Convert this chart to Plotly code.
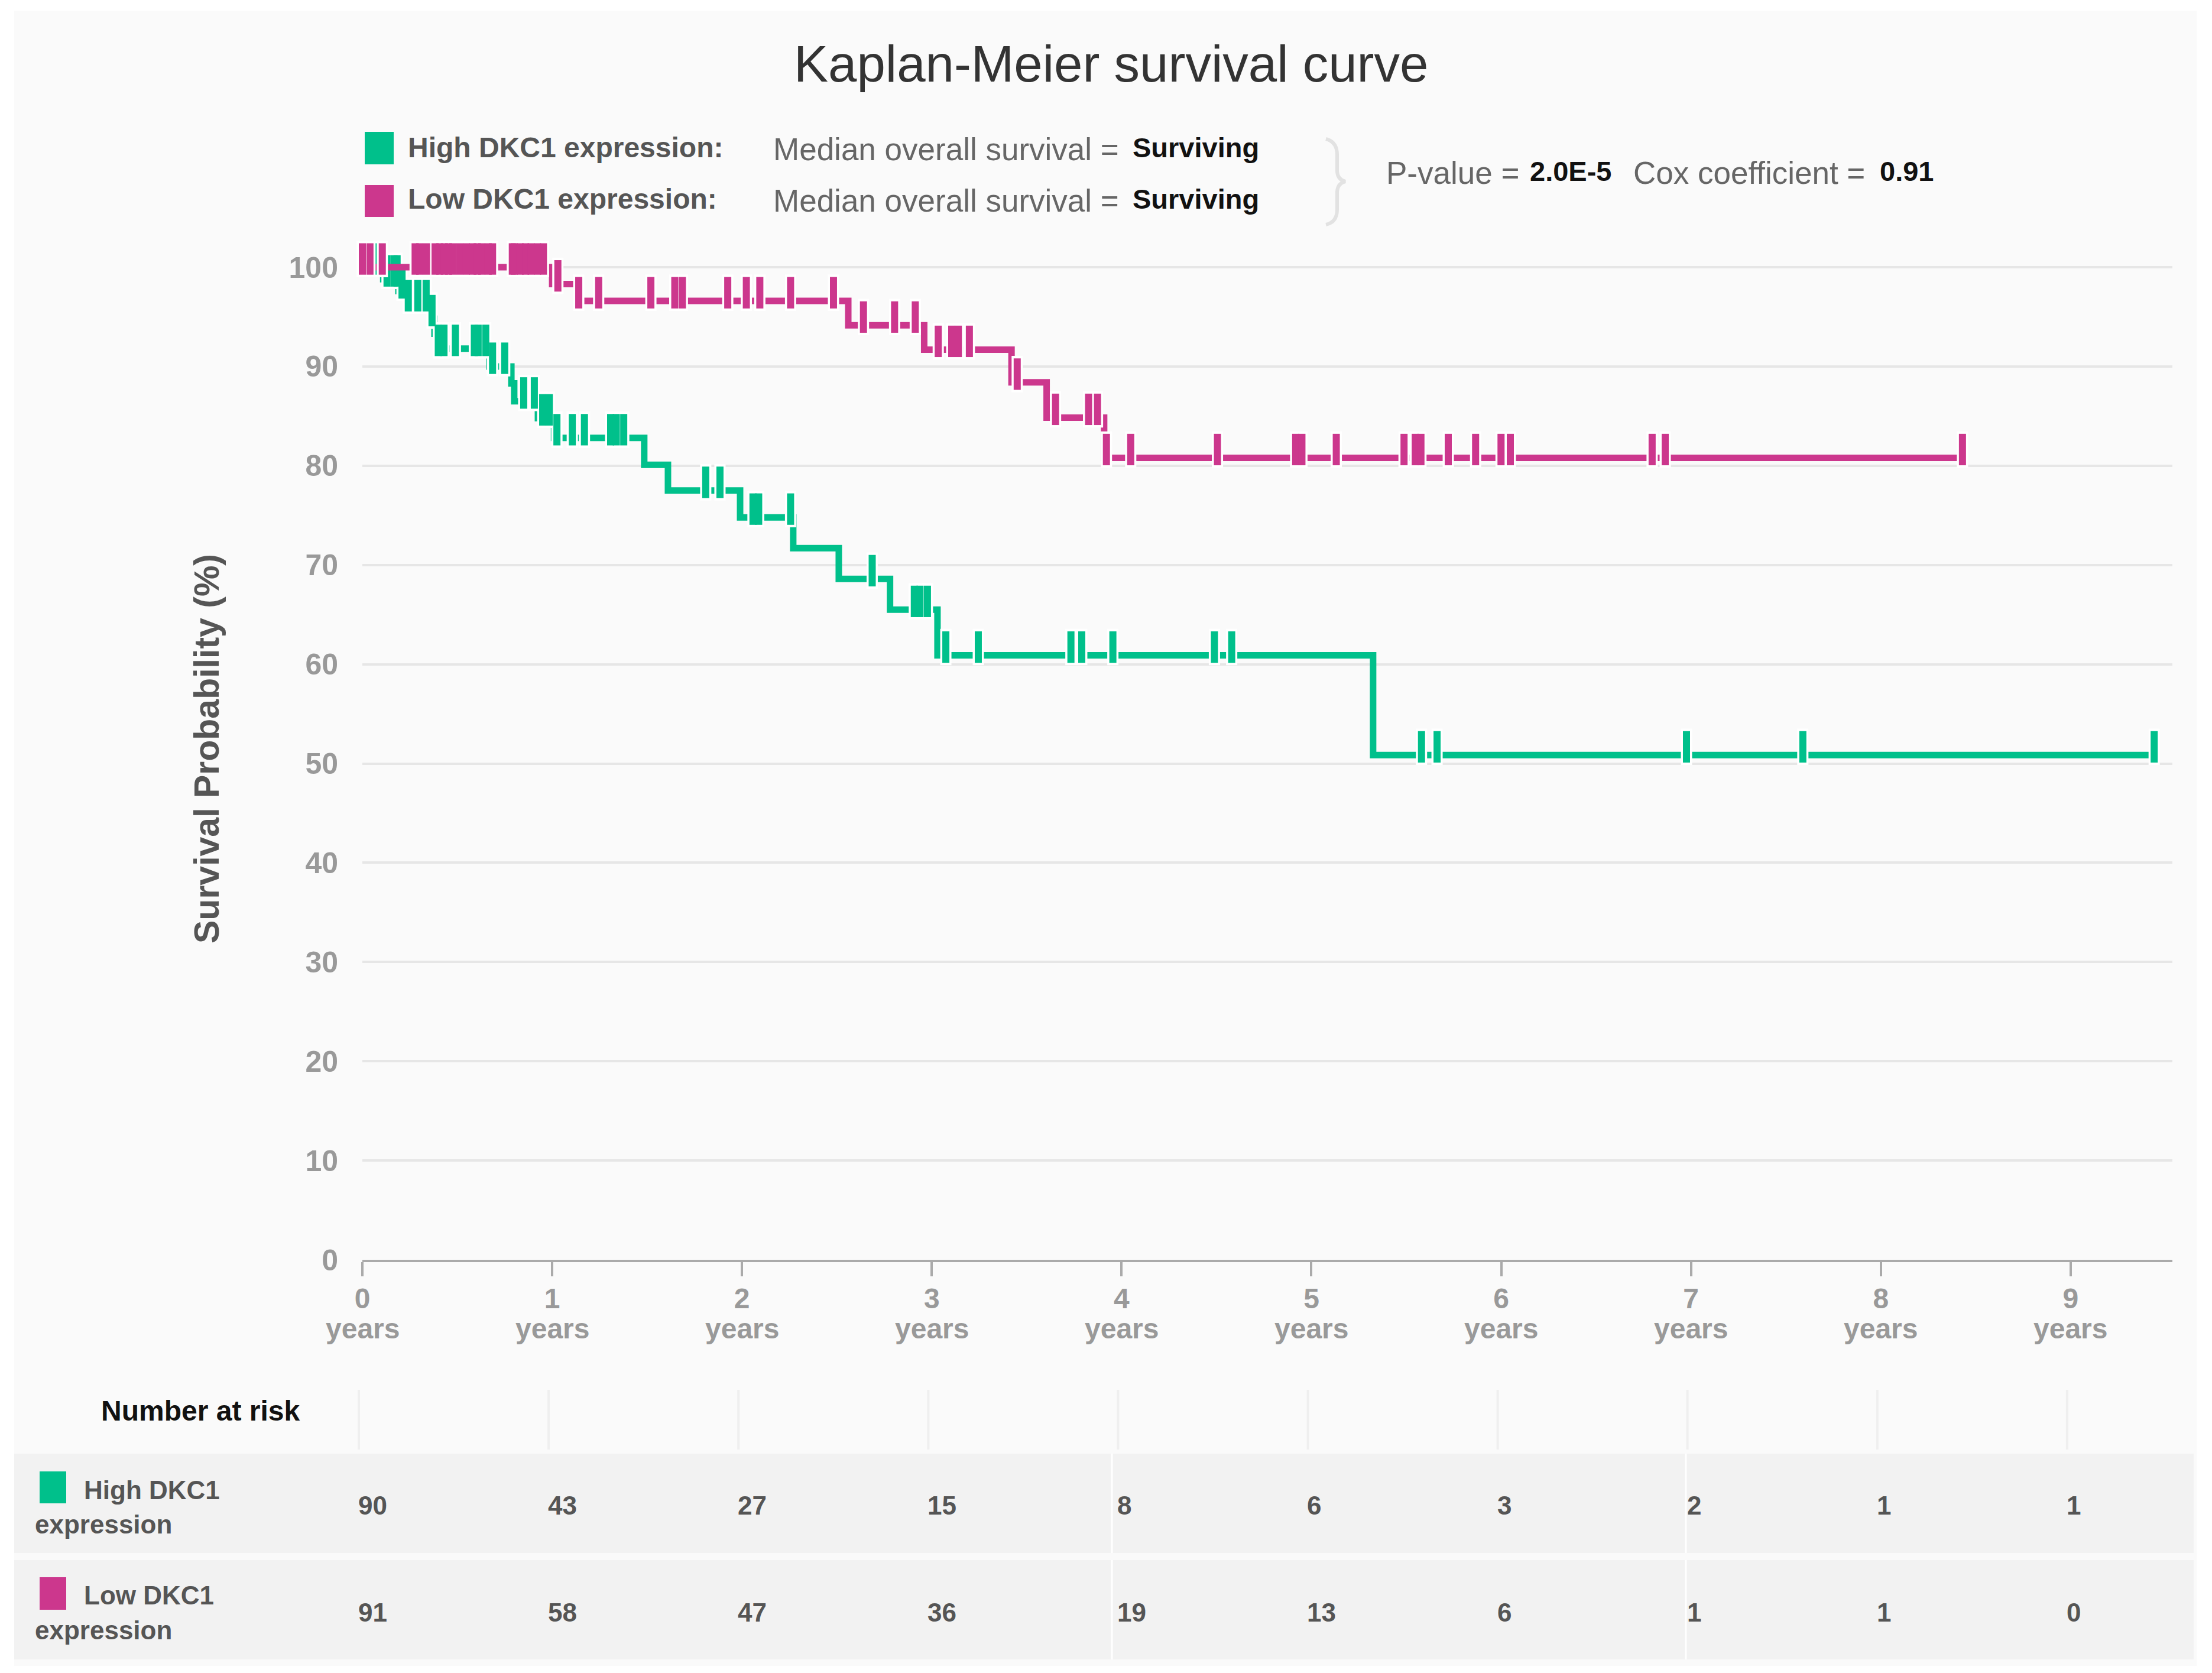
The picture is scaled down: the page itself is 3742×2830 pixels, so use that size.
import numpy as np
import plotly.graph_objects as go

# ---------------- data ----------------
green_times = [0, 0.11, 0.19, 0.235, 0.36, 0.38, 0.40, 0.67, 0.785, 0.80, 0.925, 1.01,
               1.485, 1.61, 1.99, 2.27, 2.51, 2.78, 3.03, 5.325, 9.44]
green_surv = [100, 98.8, 97.6, 96.3, 94.8, 93.3, 91.8, 90.0, 88.3, 86.5, 84.8, 82.8,
              80.1, 77.5, 74.8, 71.7, 68.6, 65.5, 60.9, 50.85, 50.85]
green_censor = [0.08, 0.13, 0.167, 0.183, 0.209, 0.242, 0.292, 0.336, 0.367, 0.40, 0.43,
                0.49, 0.59, 0.61, 0.65, 0.686, 0.75, 0.85, 0.906, 0.95, 0.985, 1.025,
                1.106, 1.17, 1.308, 1.338, 1.377, 1.809, 1.884, 2.058, 2.088, 2.256,
                2.686, 2.908, 2.938, 2.977, 3.074, 3.245, 3.733, 3.79, 3.954, 4.489,
                4.58, 5.58, 5.662, 6.976, 7.589, 9.44]

magenta_times = [0, 1.00, 1.13, 2.56, 2.96, 3.42, 3.605, 3.908, 8.44]
magenta_surv = [100, 98.3, 96.6, 94.15, 91.7, 88.4, 84.85, 80.8, 80.8]
magenta_censor = [0.0, 0.04, 0.105, 0.278, 0.302, 0.338, 0.383, 0.408, 0.432, 0.454,
                  0.476, 0.512, 0.548, 0.582, 0.605, 0.629, 0.663, 0.686, 0.79, 0.80,
                  0.831, 0.860, 0.889, 0.923, 0.954, 1.03, 1.14, 1.245, 1.52, 1.646,
                  1.686, 1.925, 2.023, 2.094, 2.256, 2.482, 2.64, 2.804, 2.913, 3.034,
                  3.105, 3.14, 3.198, 3.45, 3.652, 3.826, 3.873, 3.92, 4.048, 4.505,
                  4.917, 4.950, 5.131, 5.488, 5.547, 5.577, 5.721, 5.865, 5.999, 6.048,
                  6.795, 6.864, 8.43]

year_ticks = [0, 1, 2, 3, 4, 5, 6, 7, 8, 9]
y_ticks = [0, 10, 20, 30, 40, 50, 60, 70, 80, 90, 100]
risk_high = [90, 43, 27, 15, 8, 6, 3, 2, 1, 1]
risk_low = [91, 58, 47, 36, 19, 13, 6, 1, 1, 0]

GREEN = "#00C08B"
MAGENTA = "#CC378D"
FONT = "Liberation Sans, Arial, sans-serif"

# ---------------- geometry (pixels) ----------------
W, H = 3742, 2830
L, R, T, B = 613, 3675, 426, 2131
X_MAX = 9.536
Y_MAX = 101.55


def px_x(px):
    return (px - L) / (R - L)


def px_y(py):
    return (B - py) / (B - T)


def year_px(k):
    return L + k * (R - L) / X_MAX


def surv_at(times, surv, t):
    idx = np.searchsorted(np.array(times), np.array(t), side="right") - 1
    return np.array(surv)[idx]


fig = go.Figure()

TICK_OFF = 0.83  # censor tick sits on top of the line


def add_series(times, surv, censor, color, name):
    fig.add_trace(go.Scatter(x=times, y=surv, mode="lines", line_shape="hv",
                             line=dict(color=color, width=11), name=name,
                             showlegend=False, cliponaxis=False, hoverinfo="skip"))
    cy = surv_at(times, surv, censor) + TICK_OFF
    fig.add_trace(go.Scatter(x=censor, y=cy, mode="markers", showlegend=False,
                             cliponaxis=False, hoverinfo="skip",
                             marker=dict(symbol="line-ns", size=44,
                                         line=dict(color="white", width=19))))
    fig.add_trace(go.Scatter(x=censor, y=cy, mode="markers", showlegend=False,
                             cliponaxis=False, hoverinfo="skip",
                             marker=dict(symbol="line-ns", size=38,
                                         line=dict(color=color, width=12))))


add_series(green_times, green_surv, green_censor, GREEN, "High DKC1 expression")
add_series(magenta_times, magenta_surv, magenta_censor, MAGENTA, "Low DKC1 expression")

shapes = []
annotations = []


def ann(text, px, py, size, color, xanchor="left", angle=0):
    annotations.append(dict(
        text=text, x=px_x(px), y=px_y(py),
        xref="paper", yref="paper", xanchor=xanchor, yanchor="middle",
        showarrow=False, textangle=angle,
        font=dict(family=FONT, size=size, color=color)))


def rect(x0, y0, x1, y1, color, layer="below"):
    shapes.append(dict(type="rect", xref="paper", yref="paper",
                       x0=px_x(x0), x1=px_x(x1), y0=px_y(y1), y1=px_y(y0),
                       fillcolor=color, line=dict(width=0), layer=layer))


def vline(px, y0, y1, color, width):
    shapes.append(dict(type="line", xref="paper", yref="paper",
                       x0=px_x(px), x1=px_x(px), y0=px_y(y1), y1=px_y(y0),
                       line=dict(color=color, width=width), layer="below"))


# background panel
rect(24, 18, 3716, 2818, "#fafafa")

# title
ann("Kaplan-Meier survival curve", 1879, 107, 87, "#333333", xanchor="center")

# legend block
rect(617, 223, 666, 278, GREEN, layer="above")
rect(617, 313, 666, 367, MAGENTA, layer="above")
ann("<b>High DKC1 expression:</b>", 688, 250, 48, "#555555")
ann("<b>Low DKC1 expression:</b>", 688, 337, 48, "#555555")
ann("Median overall survival =", 1306, 252, 53, "#666666")
ann("Median overall survival =", 1306, 340, 53, "#666666")
ann("<b>Surviving</b>", 1914, 250, 47, "#111111")
ann("<b>Surviving</b>", 1914, 337, 47, "#111111")

# brace
pts = [(2243, 235), (2262, 240), (2262, 262), (2262, 290), (2263, 304), (2276, 307),
       (2263, 310), (2262, 324), (2262, 354), (2262, 376), (2243, 380)]
p = [(px_x(a), px_y(b)) for a, b in pts]
path = ("M {0[0]},{0[1]} Q {1[0]},{1[1]} {2[0]},{2[1]} L {3[0]},{3[1]} "
        "Q {4[0]},{4[1]} {5[0]},{5[1]} Q {6[0]},{6[1]} {7[0]},{7[1]} "
        "L {8[0]},{8[1]} Q {9[0]},{9[1]} {10[0]},{10[1]}").format(*p)
shapes.append(dict(type="path", xref="paper", yref="paper", path=path,
                   line=dict(color="#e2e2e2", width=6), layer="above"))

ann("P-value =", 2343, 292, 53, "#666666")
ann("<b>2.0E-5</b>", 2586, 290, 47, "#111111")
ann("Cox coefficient =", 2761, 292, 53, "#666666")
ann("<b>0.91</b>", 3178, 290, 47, "#111111")

# y-axis title
ann("<b>Survival Probability (%)</b>", 350, 1267, 59, "#555555", xanchor="center", angle=-90)

# "years" under each tick
for k in year_ticks:
    ann("<b>years</b>", year_px(k), 2247, 48, "#999999", xanchor="center")

# risk table
ann("<b>Number at risk</b>", 339, 2386, 48, "#111111", xanchor="center")
for k in year_ticks:
    vline(year_px(k) - 6, 2351, 2452, "#efefef", 4)
rect(24, 2459, 3711, 2627, "#f2f2f2")
rect(24, 2639, 3711, 2807, "#f2f2f2")
for xx in (1881, 2852):
    vline(xx, 2459, 2627, "#ffffff", 3)
    vline(xx, 2639, 2807, "#ffffff", 3)
rect(67, 2489, 112, 2543, GREEN, layer="above")
rect(67, 2668, 112, 2723, MAGENTA, layer="above")
ann("<b>High DKC1</b>", 140, 2520, 44, "#555555")
ann("<b>expression</b>", 57, 2578, 44, "#555555")
ann("<b>Low DKC1</b>", 140, 2698, 44, "#555555")
ann("<b>expression</b>", 57, 2757, 44, "#555555")
for k, v in zip(year_ticks, risk_high):
    ann(f"<b>{v}</b>", year_px(k) - 9, 2546, 44, "#555555")
for k, v in zip(year_ticks, risk_low):
    ann(f"<b>{v}</b>", year_px(k) - 9, 2727, 44, "#555555")

fig.update_layout(
    width=W, height=H,
    margin=dict(l=L, r=W - R, t=T, b=H - B, pad=0),
    paper_bgcolor="#ffffff", plot_bgcolor="#fafafa",
    font=dict(family=FONT),
    showlegend=False,
    shapes=shapes, annotations=annotations,
    xaxis=dict(range=[0, X_MAX], tickmode="array", tickvals=year_ticks,
               ticktext=[f"<b>{k}</b>" for k in year_ticks],
               tickfont=dict(family=FONT, size=48, color="#999999"),
               ticks="outside", ticklen=24, tickwidth=4, tickcolor="#aaaaaa",
               ticklabelstandoff=-4,
               showline=True, linecolor="#aaaaaa", linewidth=4,
               showgrid=False, zeroline=False, fixedrange=True),
    yaxis=dict(range=[0, Y_MAX], tickmode="array", tickvals=y_ticks,
               ticktext=[f"<b>{v}</b>" for v in y_ticks],
               tickfont=dict(family=FONT, size=50, color="#999999"),
               ticks="", ticklabelstandoff=40,
               showgrid=True, gridcolor="#e6e6e6", gridwidth=4,
               showline=False, zeroline=False, fixedrange=True),
)

fig.write_html("out.html", config={"displayModeBar": False},
               post_script="document.body.style.margin='0';"
                           "document.documentElement.style.overflow='hidden';")
